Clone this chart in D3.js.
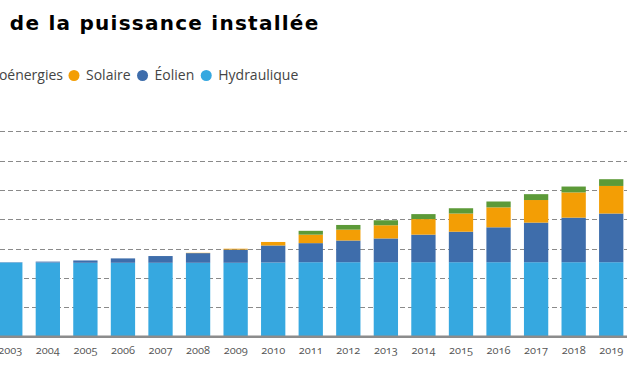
<!DOCTYPE html>
<html>
<head>
<meta charset="utf-8">
<script src="https://cdn.jsdelivr.net/npm/d3@7"></script>
<style>
  body { margin:0; background:#fff; }
  svg { display:block; }
  .year text { font-family:"Open Sans", sans-serif; font-size:11px; fill:#555; font-variant-numeric:oldstyle-nums; }
</style>
</head>
<body>
<div id="chart"></div>
<script>
var years = [2003,2004,2005,2006,2007,2008,2009,2010,2011,2012,2013,2014,2015,2016,2017,2018,2019];
// GW
var hydraulique = [25.3,25.3,25.2,25.2,25.2,25.2,25.2,25.3,25.4,25.4,25.4,25.4,25.4,25.4,25.4,25.4,25.4];
var eolien      = [0.1,0.3,0.8,1.5,2.3,3.3,4.5,5.8,6.5,7.4,8.1,9.4,10.4,11.9,13.5,15.2,16.6];
var solaire     = [0,0,0,0,0,0.1,0.3,1.2,2.9,3.7,4.5,5.3,6.2,6.8,7.7,8.6,9.4];
var bioenergies = [0,0,0,0,0,0,0,0,1.3,1.6,1.7,1.7,1.8,2.0,2.0,2.0,2.3];
var gridTicks = [10,20,30,40,50,60,70];

var keys = ["Hydraulique","Éolien","Solaire","Bioénergies"];
var colors = {"Hydraulique":"#36a8e0","Éolien":"#3e6dab","Solaire":"#f39e05","Bioénergies":"#5c9a38"};
var legendOrder = ["Bioénergies","Solaire","Éolien","Hydraulique"];

var width = 627, height = 375;

var table = years.map(function(y,i){
    return {year:y, "Hydraulique":hydraulique[i], "Éolien":eolien[i], "Solaire":solaire[i], "Bioénergies":bioenergies[i]};
});

var svg = d3.select("#chart").append("svg")
    .attr("width", width)
    .attr("height", height);

var x = d3.scaleBand()
    .domain(years)
    .range([-8.5, 630])
    .paddingInner(0.353)
    .paddingOuter(0.1765);

var y = d3.scaleLinear()
    .domain([0,70])
    .range([336.7, 131.4]);

// title (cropped on the left in the original)
svg.append("text")
    .attr("x", 319.5)
    .attr("y", 30)
    .attr("text-anchor", "end")
    .style("font-family", "'DejaVu Sans', sans-serif")
    .style("font-weight", "bold")
    .style("font-size", "20px")
    .style("letter-spacing", "1.25px")
    .style("fill", "#000")
    .text("Évolution de la puissance installée");

// legend
var legend = svg.append("g").attr("class","legend");
var lx = 74;
// first item ends before the Solaire dot
var bio = legend.append("text")
    .attr("x", 63).attr("y", 80)
    .attr("text-anchor","end")
    .style("font-family","'Open Sans', sans-serif")
    .style("font-size","14px")
    .style("fill","#444")
    .text(legendOrder[0]);
var bioW = bio.node().getComputedTextLength();
legend.append("circle")
    .attr("cx", 63 - bioW - 12).attr("cy", 75.5).attr("r", 5.5)
    .style("fill", colors[legendOrder[0]]);
legendOrder.slice(1).forEach(function(k){
    legend.append("circle")
        .attr("cx", lx).attr("cy", 75.5).attr("r", 5.5)
        .style("fill", colors[k]);
    var t = legend.append("text")
        .attr("x", lx + 12).attr("y", 80)
        .style("font-family","'Open Sans', sans-serif")
        .style("font-size","14px")
        .style("fill","#444")
        .text(k);
    lx = lx + 12 + t.node().getComputedTextLength() + 12;
});

// dashed gridlines
svg.append("g")
    .selectAll("line")
    .data(gridTicks)
    .enter()
    .append("line")
    .attr("x1", 0)
    .attr("x2", width)
    .attr("y1", function(d){ return Math.round(y(d)) + 0.5; })
    .attr("y2", function(d){ return Math.round(y(d)) + 0.5; })
    .style("stroke", "#8a8a8a")
    .style("stroke-width", 1)
    .style("stroke-dasharray", "5,3");

var series = d3.stack().keys(keys)(table);

svg.append("g")
    .selectAll("g")
    .data(series)
    .enter()
    .append("g")
    .style("fill", function(d){ return colors[d.key]; })
    .selectAll("rect")
    .data(function(d){ return d; })
    .enter()
    .append("rect")
    .attr("x", function(d){ return x(d.data.year); })
    .attr("width", x.bandwidth())
    .attr("y", function(d){ return y(d[1]); })
    .attr("height", function(d){ return y(d[0]) - y(d[1]); });

// x axis
var xAxis = d3.axisBottom(x).tickSize(0).tickPadding(10);
var gx = svg.append("g")
    .attr("class", "year")
    .attr("transform", "translate(0," + y(0) + ")")
    .call(xAxis);
gx.select(".domain")
    .attr("d", "M0,0H" + width)
    .style("stroke", "#8c8c8c")
    .style("stroke-width", 2.5);
gx.selectAll("text").style("font-family", null).style("font-size", null);
</script>
</body>
</html>
